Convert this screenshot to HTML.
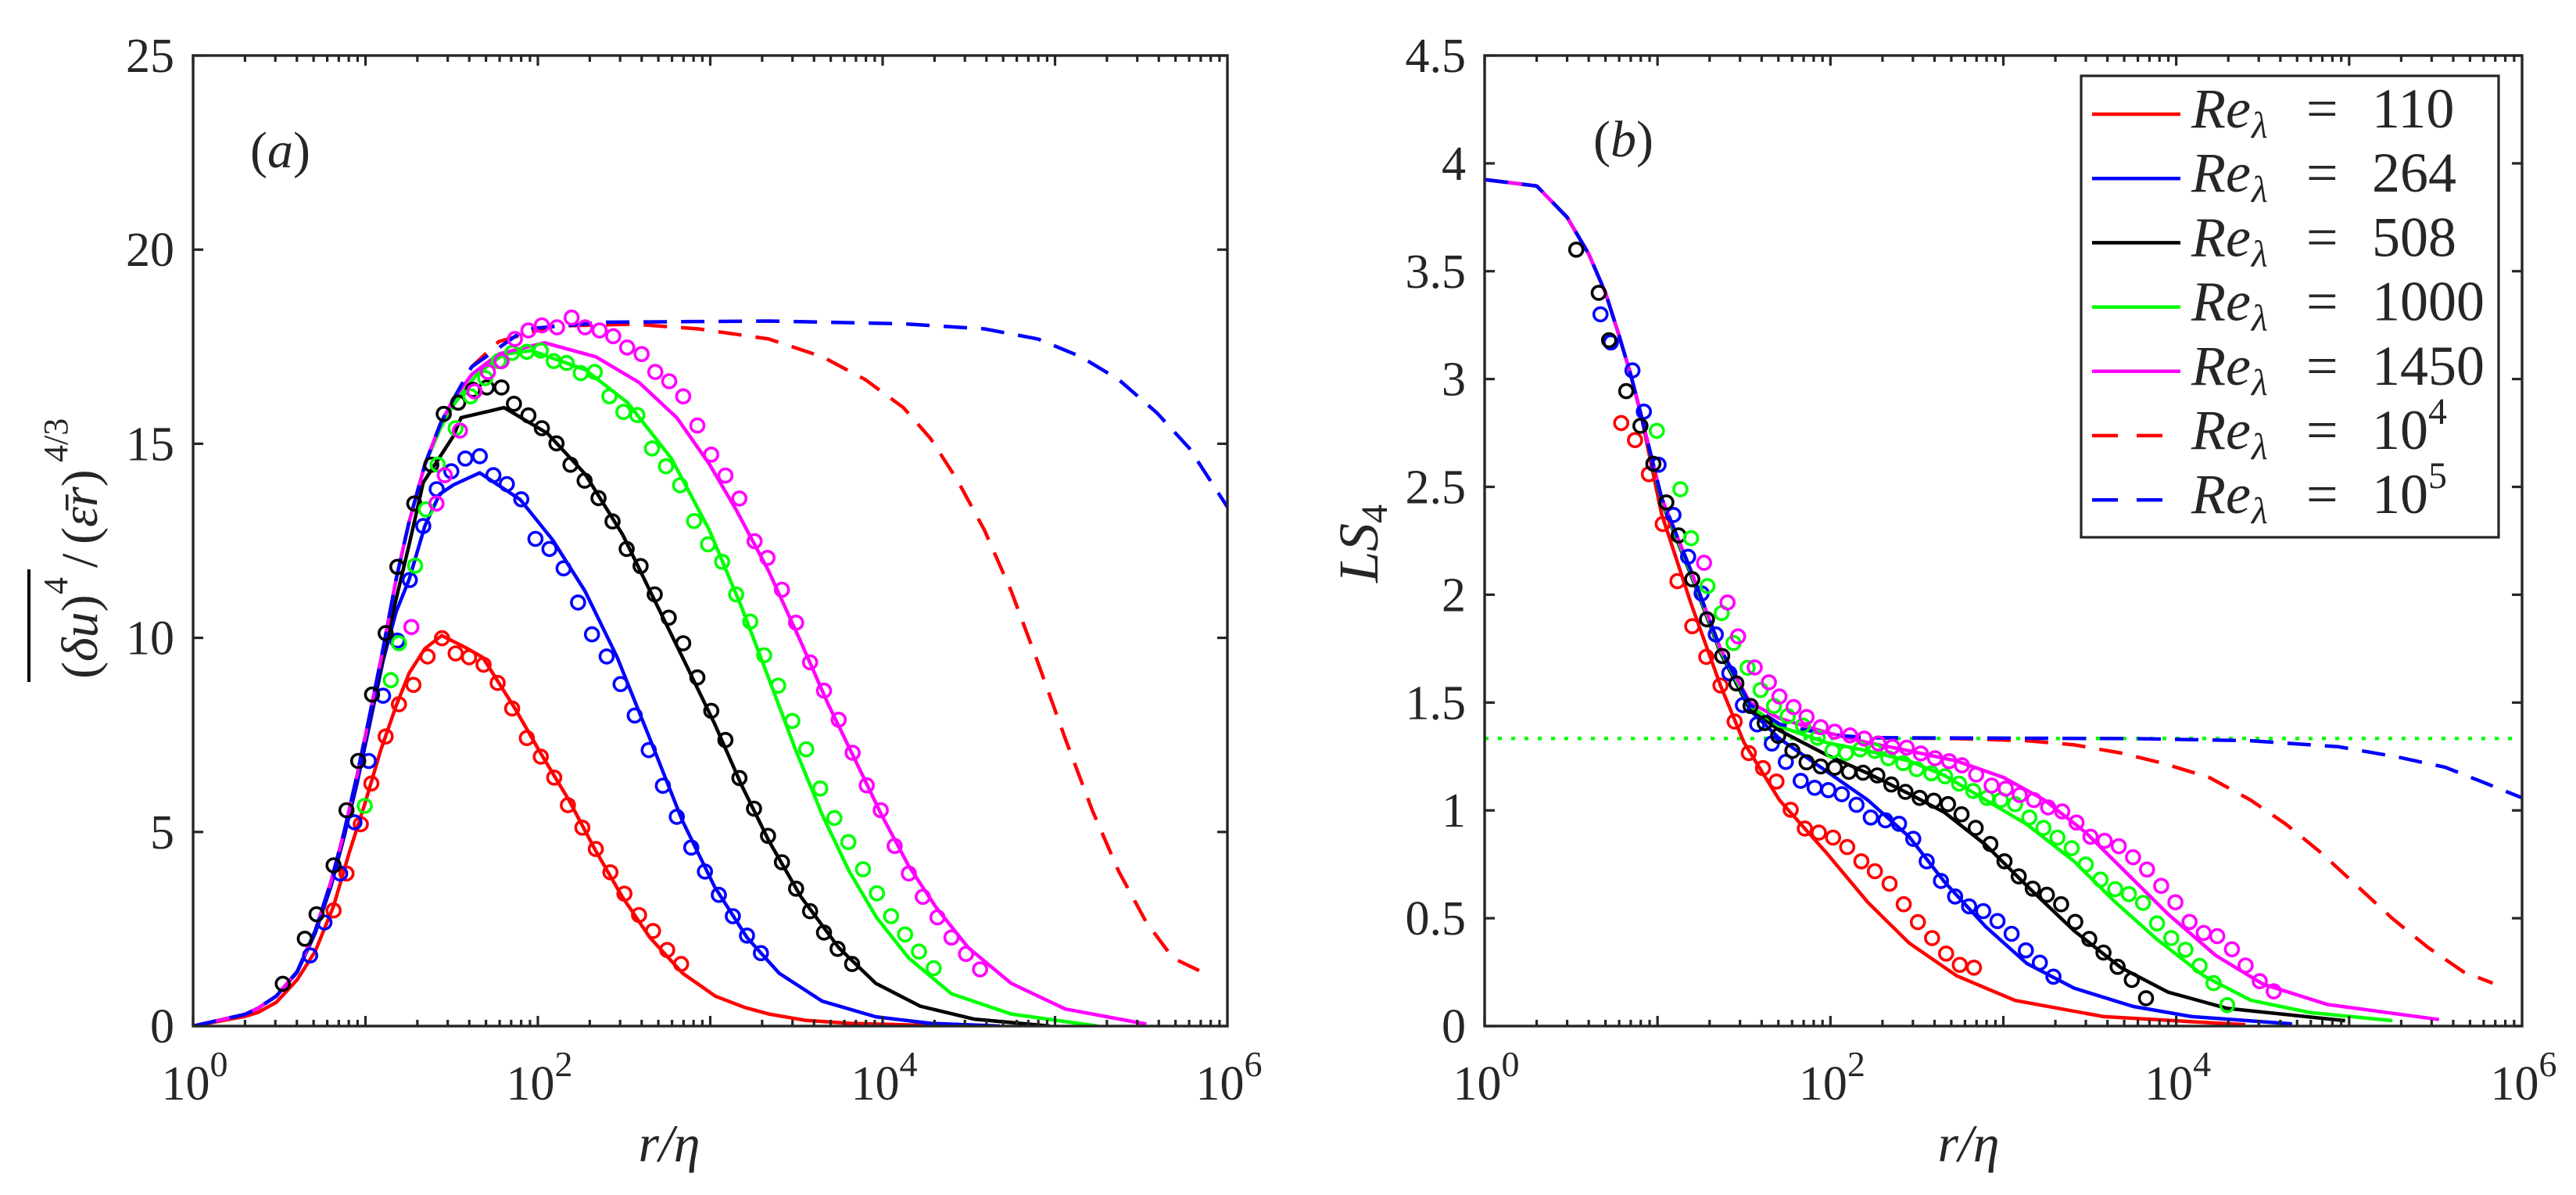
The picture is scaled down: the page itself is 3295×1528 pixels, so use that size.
<!DOCTYPE html>
<html><head><meta charset="utf-8">
<style>
html,body{margin:0;padding:0;background:#fff;}
svg{display:block;font-family:"Liberation Serif","DejaVu Serif",serif;}
text{font-family:"Liberation Serif","DejaVu Serif",serif;fill:#262626;}
</style></head>
<body>
<svg id="fig" width="3295" height="1528" viewBox="0 0 3295 1528" xmlns="http://www.w3.org/2000/svg">
<defs>
<clipPath id="clipA"><rect x="247" y="71" width="1323" height="1241"/></clipPath>
<clipPath id="clipB"><rect x="1899" y="71" width="1327" height="1241"/></clipPath>
</defs>
<rect width="3295" height="1528" fill="#fff"/>
<g id="panelA"></g>
<g id="panelB"></g>

<text x="320" y="214" font-size="66" fill="#000">(<tspan font-style="italic">a</tspan>)</text>
<text x="856" y="1485" font-size="68" font-style="italic" text-anchor="middle" fill="#000">r/η</text>
<g transform="translate(124,876) rotate(-90)">
  <text x="8" y="0" font-size="66" fill="#000">(<tspan font-style="italic">δu</tspan>)</text>
  <line x1="4" y1="-87" x2="148" y2="-87" stroke="#000" stroke-width="4"/>
  <text x="116" y="-38" font-size="44" fill="#000">4</text>
  <text x="150" y="0" font-size="66" fill="#000">/</text>
  <text x="180" y="0" font-size="66" fill="#000">(<tspan font-style="italic">ε̄r</tspan>)</text>
  <text x="285" y="-38" font-size="44" fill="#000">4/3</text>
</g>

<text x="2038" y="200" font-size="66" fill="#000">(<tspan font-style="italic">b</tspan>)</text>
<text x="2518" y="1485" font-size="68" font-style="italic" text-anchor="middle" fill="#000">r/η</text>
<g transform="translate(1762,745) rotate(-90)">
  <text x="0" y="0" font-size="72" font-style="italic" fill="#000">LS<tspan font-size="48" font-style="normal" dy="12">4</tspan></text>
</g>

<g id="legend"></g>
</svg>
<script>
// ---------------- Panel (a) data: x = log10(r/eta), y = (du)^4/(eps r)^(4/3) ----------------
const aRedLineX = [0,0.301,0.376,0.482,0.603,0.709,0.815,0.905,0.996,1.087,1.178,1.253,1.344,1.442,1.58,1.68,1.867,2.02,2.18,2.336,2.49,2.65,2.84,3.03,3.2,3.34,3.55,3.81,4.40];
const aRedLineY = [0,0.25,0.35,0.61,1.19,1.93,3.09,4.46,5.72,7.09,8.25,9.09,9.72,10.06,9.75,9.5,8.18,7.0,5.82,4.51,3.33,2.28,1.36,0.77,0.48,0.31,0.15,0.07,0];
const aBlueLineX = [0,0.301,0.376,0.482,0.603,0.709,0.80,0.875,0.951,1.026,1.102,1.178,1.253,1.344,1.43,1.51,1.663,1.898,2.086,2.274,2.46,2.65,2.837,3.025,3.213,3.40,3.65,3.96,4.277,4.68];
const aBlueLineY = [0,0.3,0.46,0.77,1.38,2.4,3.6,4.85,6.25,7.8,9.41,10.67,11.5,12.88,13.7,13.94,14.25,13.56,12.52,11.2,9.5,7.4,5.3,3.59,2.28,1.36,0.64,0.24,0.07,0];
const aBlackLineX = [0,0.301,0.376,0.482,0.603,0.709,0.80,0.875,0.951,1.026,1.102,1.178,1.253,1.335,1.51,1.554,1.804,2.055,2.274,2.493,2.68,2.853,3.025,3.18,3.34,3.526,3.745,3.96,4.22,4.53,4.97];
const aBlackLineY = [0,0.3,0.46,0.77,1.4,2.43,3.68,4.93,6.4,7.95,9.5,11.0,12.4,14.0,15.2,15.67,15.93,15.27,14.22,12.65,10.94,9.37,7.79,6.22,4.77,3.33,2.02,1.10,0.51,0.18,0];
const aGreenLineX = [0,0.301,0.376,0.482,0.603,0.709,0.80,0.875,0.951,1.026,1.102,1.178,1.253,1.344,1.435,1.51,1.648,1.80,1.961,2.274,2.52,2.775,2.994,3.18,3.338,3.494,3.651,3.807,3.964,4.152,4.40,4.746,5.247];
const aGreenLineY = [0,0.3,0.46,0.77,1.40,2.46,3.72,4.98,6.46,8.04,9.72,11.51,12.99,14.46,15.4,16.0,16.8,17.3,17.4,16.91,16.06,14.62,12.78,10.81,8.97,7.13,5.43,3.98,2.80,1.75,0.83,0.31,0];
const aMagentaLineX = [0,0.301,0.376,0.482,0.603,0.709,0.80,0.875,0.951,1.026,1.102,1.178,1.253,1.344,1.435,1.51,1.62,1.773,2.039,2.336,2.587,2.806,2.994,3.15,3.338,3.526,3.682,3.839,3.995,4.152,4.308,4.496,4.746,5.06,5.53];
const aMagentaLineY = [0,0.3,0.46,0.77,1.40,2.46,3.72,4.98,6.46,8.04,9.72,11.51,12.99,14.46,15.52,16.15,16.8,17.31,17.6,17.24,16.58,15.67,14.48,13.3,11.73,9.89,8.31,6.87,5.43,4.12,3.07,2.02,1.10,0.44,0.05];
const aRedDashX = [0,0.301,0.376,0.482,0.603,0.709,0.80,0.875,0.951,1.026,1.102,1.178,1.253,1.344,1.435,1.51,1.616,1.773,2.086,2.556,2.93,3.338,3.651,3.90,4.12,4.277,4.43,4.59,4.746,4.90,5.06,5.216,5.37,5.53,5.685,5.84];
const aRedDashY = [0,0.3,0.46,0.77,1.40,2.46,3.72,4.98,6.46,8.04,9.72,11.51,12.99,14.46,15.52,16.15,16.98,17.63,18.03,18.08,17.96,17.70,17.24,16.65,15.93,15.14,14.09,12.78,11.2,9.37,7.4,5.56,3.98,2.67,1.75,1.42];
const aBlueDashX = [0,0.301,0.376,0.482,0.603,0.709,0.80,0.875,0.951,1.026,1.102,1.178,1.253,1.344,1.435,1.51,1.616,1.93,2.399,3.338,4.12,4.59,4.90,5.15,5.37,5.59,5.78,6.0];
const aBlueDashY = [0,0.3,0.46,0.77,1.40,2.46,3.72,4.98,6.46,8.04,9.72,11.51,12.99,14.46,15.52,16.15,16.98,17.96,18.13,18.16,18.09,17.96,17.7,17.24,16.65,15.8,14.88,13.37];

const aRedPtsX = [0.815,0.890,0.973,1.034,1.117,1.194,1.278,1.360,1.444,1.523,1.601,1.685,1.767,1.851,1.936,2.017,2.095,2.174,2.258,2.336,2.421,2.502,2.587,2.668,2.750,2.831];
const aRedPtsY = [2.98,3.93,5.20,6.25,7.46,8.29,8.79,9.52,9.99,9.60,9.50,9.31,8.84,8.18,7.42,6.94,6.40,5.69,5.11,4.56,3.96,3.41,2.86,2.45,1.96,1.60];
const aBluePtsX = [0.679,0.762,0.853,0.936,1.019,1.102,1.185,1.257,1.335,1.413,1.498,1.579,1.663,1.742,1.820,1.904,1.986,2.067,2.149,2.233,2.314,2.399,2.480,2.562,2.643,2.725,2.806,2.890,2.969,3.050,3.131,3.213,3.294];
const aBluePtsY = [1.82,2.67,3.93,5.25,6.83,8.51,9.93,11.49,12.88,13.83,14.29,14.62,14.68,14.19,13.96,13.57,12.55,12.29,11.79,10.91,10.09,9.52,8.81,8.00,7.11,6.19,5.39,4.60,3.98,3.38,2.83,2.33,1.88];
const aBlackPtsX = [0.520,0.648,0.716,0.815,0.890,0.958,1.038,1.117,1.185,1.283,1.382,1.454,1.538,1.623,1.704,1.789,1.861,1.945,2.023,2.108,2.189,2.271,2.352,2.433,2.515,2.596,2.678,2.759,2.843,2.925,3.006,3.088,3.169,3.254,3.335,3.416,3.498,3.579,3.660,3.739,3.823];
const aBlackPtsY = [1.09,2.25,2.88,4.14,5.56,6.83,8.54,10.12,11.83,13.46,14.46,15.77,16.06,16.39,16.45,16.45,16.03,15.73,15.40,15.01,14.46,14.05,13.60,13.00,12.29,11.85,11.12,10.52,9.86,8.98,8.12,7.37,6.39,5.60,4.90,4.22,3.54,2.96,2.41,1.99,1.60];
const aGreenPtsX = [0.996,1.147,1.194,1.288,1.351,1.419,1.523,1.610,1.695,1.773,1.851,1.936,2.017,2.092,2.167,2.249,2.330,2.415,2.496,2.577,2.662,2.743,2.825,2.906,2.987,3.069,3.150,3.232,3.313,3.394,3.476,3.557,3.638,3.720,3.801,3.886,3.967,4.049,4.130,4.211,4.296];
const aGreenPtsY = [5.67,8.91,9.86,11.86,13.31,14.46,15.40,16.22,16.69,17.13,17.34,17.37,17.40,17.13,17.08,16.82,16.85,16.22,15.82,15.74,14.88,14.42,13.93,13.01,12.41,11.96,11.12,10.42,9.55,8.77,7.86,7.13,6.12,5.36,4.74,4.04,3.42,2.83,2.36,1.92,1.49];
const aMagentaPtsX = [1.266,1.412,1.460,1.548,1.632,1.710,1.789,1.867,1.945,2.023,2.111,2.196,2.274,2.358,2.437,2.518,2.602,2.681,2.762,2.843,2.925,3.006,3.088,3.169,3.257,3.332,3.416,3.498,3.579,3.660,3.745,3.826,3.908,3.989,4.070,4.152,4.233,4.318,4.399,4.484,4.565];
const aMagentaPtsY = [10.28,13.46,14.19,15.34,16.35,16.85,17.13,17.70,17.92,18.05,18.00,18.25,18.00,17.92,17.77,17.48,17.31,16.85,16.61,16.22,15.47,14.72,14.18,13.59,12.49,12.06,11.24,10.39,9.37,8.64,7.89,7.04,6.20,5.56,4.64,3.93,3.33,2.80,2.28,1.86,1.46];

// ---------------- Panel (b) data: x = log10(r/eta), y = LS4 ----------------
const bRedLineX = [0,0.301,0.477,0.602,0.699,0.778,0.845,0.903,1.023,1.194,1.364,1.50,1.705,1.978,2.216,2.455,2.73,3.068,3.58,4.40];
const bRedLineY = [3.925,3.895,3.75,3.58,3.40,3.2,3.02,2.84,2.375,1.958,1.579,1.314,1.048,0.802,0.574,0.385,0.233,0.119,0.044,0.006];
const bBlueLineX = [0,0.301,0.477,0.602,0.699,0.778,0.845,0.903,1.023,1.194,1.364,1.535,1.705,1.978,2.216,2.455,2.659,2.898,3.136,3.409,3.75,4.09,4.67];
const bBlueLineY = [3.925,3.895,3.75,3.58,3.40,3.2,3.02,2.84,2.432,2.091,1.731,1.465,1.333,1.181,1.048,0.878,0.669,0.461,0.29,0.176,0.091,0.044,0.01];
const bBlackLineX = [0,0.301,0.477,0.602,0.699,0.778,0.845,0.903,1.023,1.194,1.364,1.535,1.705,1.978,2.216,2.455,2.659,2.898,3.136,3.409,3.68,3.954,4.295,4.977];
const bBlackLineY = [3.925,3.895,3.75,3.58,3.40,3.2,3.02,2.84,2.432,2.091,1.731,1.47,1.371,1.257,1.172,1.077,0.991,0.840,0.650,0.442,0.271,0.157,0.082,0.025];
const bGreenLineX = [0,0.301,0.477,0.602,0.699,0.778,0.845,0.903,1.023,1.194,1.364,1.535,1.705,1.978,2.216,2.455,2.659,2.898,3.136,3.409,3.648,3.886,4.159,4.43,4.77,5.25];
const bGreenLineY = [3.925,3.895,3.75,3.58,3.40,3.2,3.02,2.84,2.44,2.10,1.74,1.484,1.389,1.314,1.276,1.229,1.162,1.048,0.935,0.764,0.574,0.404,0.233,0.12,0.063,0.025];
const bMagentaLineX = [0,0.301,0.477,0.602,0.699,0.778,0.845,0.903,1.023,1.194,1.364,1.535,1.705,1.978,2.216,2.455,2.73,3.0,3.238,3.477,3.716,3.954,4.227,4.5,4.874,5.52];
const bMagentaLineY = [3.925,3.895,3.75,3.58,3.40,3.2,3.02,2.84,2.45,2.11,1.75,1.50,1.427,1.361,1.314,1.276,1.229,1.153,1.048,0.897,0.707,0.518,0.328,0.195,0.1,0.03];
const bRedDashX = [0,0.301,0.477,0.602,0.699,0.778,0.845,0.903,1.023,1.194,1.364,1.535,1.705,1.978,2.216,2.73,3.136,3.409,3.68,3.92,4.19,4.43,4.636,4.84,5.045,5.25,5.454,5.66,5.83];
const bRedDashY = [3.925,3.895,3.75,3.58,3.40,3.2,3.02,2.84,2.45,2.11,1.75,1.49,1.40,1.352,1.337,1.333,1.323,1.304,1.266,1.219,1.153,1.048,0.935,0.802,0.65,0.499,0.366,0.252,0.199];
const bBlueDashX = [0,0.301,0.477,0.602,0.699,0.778,0.845,0.903,1.023,1.194,1.364,1.535,1.705,1.978,2.216,3.75,4.43,4.94,5.283,5.556,5.795,6.0];
const bBlueDashY = [3.925,3.895,3.75,3.58,3.40,3.2,3.02,2.84,2.45,2.11,1.75,1.49,1.40,1.352,1.337,1.333,1.323,1.295,1.247,1.2,1.124,1.058];
const bPlateau = 4/3;

const bRedPtsX = [0.79,0.87,0.95,1.030,1.115,1.201,1.282,1.364,1.446,1.528,1.610,1.688,1.770,1.852,1.933,2.015,2.097,2.179,2.257,2.342,2.424,2.506,2.588,2.669,2.748,2.830];
const bRedPtsY = [2.796,2.717,2.559,2.328,2.063,1.854,1.712,1.579,1.412,1.266,1.196,1.134,1.003,0.916,0.897,0.874,0.830,0.764,0.718,0.660,0.565,0.482,0.408,0.336,0.284,0.271];
const bBluePtsX = [0.67,0.73,0.855,0.921,1.006,1.092,1.177,1.255,1.337,1.415,1.494,1.576,1.661,1.742,1.828,1.909,1.988,2.066,2.151,2.233,2.318,2.397,2.479,2.557,2.639,2.721,2.802,2.884,2.966,3.048,3.130,3.211,3.290];
const bBluePtsY = [3.30,3.17,3.04,2.849,2.603,2.370,2.176,2.006,1.816,1.636,1.488,1.399,1.310,1.225,1.137,1.105,1.094,1.075,1.026,0.967,0.954,0.938,0.868,0.764,0.673,0.601,0.555,0.533,0.487,0.428,0.351,0.294,0.229];
const bBlackPtsX = [0.53,0.66,0.72,0.819,0.901,0.976,1.051,1.122,1.201,1.286,1.374,1.456,1.538,1.620,1.698,1.780,1.862,1.944,2.025,2.107,2.189,2.271,2.352,2.434,2.516,2.598,2.680,2.758,2.840,2.925,3.007,3.089,3.170,3.252,3.334,3.416,3.497,3.579,3.661,3.743,3.825];
const bBlackPtsY = [3.60,3.40,3.18,2.944,2.783,2.607,2.428,2.275,2.072,1.886,1.716,1.589,1.484,1.405,1.346,1.276,1.223,1.204,1.198,1.179,1.175,1.162,1.120,1.086,1.058,1.045,1.029,0.982,0.919,0.844,0.764,0.694,0.637,0.609,0.565,0.483,0.404,0.341,0.275,0.214,0.129];
const bGreenPtsX = [0.996,1.132,1.194,1.289,1.371,1.439,1.521,1.596,1.674,1.753,1.841,1.926,2.012,2.090,2.172,2.257,2.335,2.421,2.499,2.584,2.663,2.744,2.826,2.905,2.986,3.068,3.150,3.232,3.313,3.395,3.477,3.562,3.647,3.726,3.808,3.889,3.971,4.053,4.135,4.216,4.295];
const bGreenPtsY = [2.760,2.489,2.262,2.040,1.915,1.776,1.661,1.558,1.484,1.437,1.393,1.337,1.276,1.266,1.283,1.276,1.242,1.219,1.191,1.172,1.158,1.124,1.090,1.058,1.048,1.029,0.967,0.919,0.874,0.825,0.749,0.679,0.635,0.612,0.571,0.476,0.408,0.354,0.279,0.199,0.097];
const bMagentaPtsX = [1.269,1.405,1.466,1.562,1.644,1.705,1.787,1.862,1.944,2.025,2.114,2.196,2.278,2.359,2.441,2.523,2.605,2.686,2.761,2.843,2.932,3.014,3.095,3.177,3.259,3.341,3.423,3.504,3.586,3.668,3.750,3.831,3.913,3.995,4.077,4.159,4.237,4.322,4.401,4.483,4.564];
const bMagentaPtsY = [2.148,1.964,1.807,1.663,1.594,1.528,1.479,1.433,1.386,1.365,1.348,1.333,1.310,1.295,1.291,1.264,1.242,1.228,1.209,1.166,1.115,1.101,1.071,1.048,1.014,0.995,0.944,0.878,0.859,0.834,0.783,0.726,0.650,0.574,0.483,0.432,0.417,0.356,0.281,0.208,0.161];

const xTickExps = [0,2,4,6];
const aYTicks = [0,5,10,15,20,25];
const aYTickLabels = ["0","5","10","15","20","25"];
const bYTicks = [0,0.5,1,1.5,2,2.5,3,3.5,4,4.5];
const bYTickLabels = ["0","0.5","1","1.5","2","2.5","3","3.5","4","4.5"];
const legendValues = ["110","264","508","1000","1450","10","10"];
const legendExps = ["","","","","","4","5"];

const NS = "http://www.w3.org/2000/svg";
function mk(tag, attrs, parent){const e=document.createElementNS(NS,tag);for(const k in attrs)e.setAttribute(k,attrs[k]);parent.appendChild(e);return e;}

const PA = {x0:247,x1:1570,y0:71,y1:1312,xmin:0,xmax:6,ymin:0,ymax:25};
const PB = {x0:1899,x1:3226,y0:71,y1:1312,xmin:0,xmax:6,ymin:0,ymax:4.5};
function sx(p,v){return p.x0+(v-p.xmin)/(p.xmax-p.xmin)*(p.x1-p.x0);}
function sy(p,v){return p.y1-(v-p.ymin)/(p.ymax-p.ymin)*(p.y1-p.y0);}

const COL={red:"#ff0000",blue:"#0000ff",black:"#000000",green:"#00ff00",magenta:"#ff00ff"};
const DASH="30 18";
const SERIF='"Liberation Serif","DejaVu Serif",serif';

function drawLine(g,p,xs,ys,color,dash,name){
  let d="";
  for(let i=0;i<xs.length;i++){d+=(i?"L":"M")+sx(p,xs[i]).toFixed(1)+" "+sy(p,ys[i]).toFixed(1);}
  const e=mk("path",{d:d,fill:"none",stroke:color,"stroke-width":4.5,"stroke-linejoin":"round"},g);
  if(dash)e.setAttribute("stroke-dasharray",dash);
  
  
}
function drawPts(g,p,xs,ys,color,name){
  const grp=mk("g",{},g);
  
  
  for(let i=0;i<xs.length;i++){
    const c=mk("circle",{cx:sx(p,xs[i]).toFixed(1),cy:sy(p,ys[i]).toFixed(1),r:8.5,fill:"none",stroke:color,"stroke-width":3.6},grp);
    
    
  }
}
function drawAxes(g,p,yt,ytl,tag){
  const ax=mk("g",{},g);
  
  
  const st={stroke:"#262626","stroke-width":3.2};
  for(let d=p.xmin;d<p.xmax;d++){
    for(let k=1;k<=9;k++){
      const v=d+Math.log10(k);
      const X=sx(p,v);
      const L=(k===1)?13:8;
      mk("line",Object.assign({x1:X,y1:p.y1,x2:X,y2:p.y1-L},st),ax);
      mk("line",Object.assign({x1:X,y1:p.y0,x2:X,y2:p.y0+L},st),ax);
    }
  }
  xTickExps.forEach(e=>{
    const X=sx(p,e);
    const t=mk("text",{x:X+2,y:1406,"font-size":62,"text-anchor":"middle","font-family":SERIF},ax);
    
    
    t.textContent="10";
    const s=mk("tspan",{"font-size":46,dy:-30},t);
    s.textContent=String(e);
  });
  yt.forEach((v,i)=>{
    const Y=sy(p,v);
    mk("line",Object.assign({x1:p.x0,y1:Y,x2:p.x0+13,y2:Y},st),ax);
    mk("line",Object.assign({x1:p.x1,y1:Y,x2:p.x1-13,y2:Y},st),ax);
    const t=mk("text",{x:p.x0-24,y:Y+21,"font-size":62,"text-anchor":"end","font-family":SERIF},ax);
    
    
    t.textContent=ytl[i];
  });
  const b=mk("rect",{x:p.x0,y:p.y0,width:p.x1-p.x0,height:p.y1-p.y0,fill:"none",stroke:"#262626","stroke-width":3.4},ax);
  
  
}

const gA=document.getElementById("panelA");
const cA=mk("g",{"clip-path":"url(#clipA)"},gA);
drawLine(cA,PA,aRedLineX,aRedLineY,COL.red,null,"series-a-re-110");
drawLine(cA,PA,aBlueLineX,aBlueLineY,COL.blue,null,"series-a-re-264");
drawLine(cA,PA,aBlackLineX,aBlackLineY,COL.black,null,"series-a-re-508");
drawLine(cA,PA,aGreenLineX,aGreenLineY,COL.green,null,"series-a-re-1000");
drawLine(cA,PA,aMagentaLineX,aMagentaLineY,COL.magenta,null,"series-a-re-1450");
drawLine(cA,PA,aRedDashX,aRedDashY,COL.red,DASH,"series-a-re-1e4");
drawLine(cA,PA,aBlueDashX,aBlueDashY,COL.blue,DASH,"series-a-re-1e5");
drawPts(cA,PA,aRedPtsX,aRedPtsY,COL.red,"points-a-re-110");
drawPts(cA,PA,aBluePtsX,aBluePtsY,COL.blue,"points-a-re-264");
drawPts(cA,PA,aBlackPtsX,aBlackPtsY,COL.black,"points-a-re-508");
drawPts(cA,PA,aGreenPtsX,aGreenPtsY,COL.green,"points-a-re-1000");
drawPts(cA,PA,aMagentaPtsX,aMagentaPtsY,COL.magenta,"points-a-re-1450");
drawAxes(gA,PA,aYTicks,aYTickLabels,"panel-a");

const gB=document.getElementById("panelB");
const cB=mk("g",{"clip-path":"url(#clipB)"},gB);
const pl=mk("line",{x1:PB.x0,x2:PB.x1,y1:sy(PB,bPlateau),y2:sy(PB,bPlateau),stroke:COL.green,"stroke-width":4.5,"stroke-dasharray":"5 12"},cB);


drawLine(cB,PB,bRedLineX,bRedLineY,COL.red,null,"series-b-re-110");
drawLine(cB,PB,bBlueLineX,bBlueLineY,COL.blue,null,"series-b-re-264");
drawLine(cB,PB,bBlackLineX,bBlackLineY,COL.black,null,"series-b-re-508");
drawLine(cB,PB,bGreenLineX,bGreenLineY,COL.green,null,"series-b-re-1000");
drawLine(cB,PB,bMagentaLineX,bMagentaLineY,COL.magenta,null,"series-b-re-1450");
drawLine(cB,PB,bRedDashX,bRedDashY,COL.red,DASH,"series-b-re-1e4");
drawLine(cB,PB,bBlueDashX,bBlueDashY,COL.blue,DASH,"series-b-re-1e5");
drawPts(cB,PB,bRedPtsX,bRedPtsY,COL.red,"points-b-re-110");
drawPts(cB,PB,bBluePtsX,bBluePtsY,COL.blue,"points-b-re-264");
drawPts(cB,PB,bBlackPtsX,bBlackPtsY,COL.black,"points-b-re-508");
drawPts(cB,PB,bGreenPtsX,bGreenPtsY,COL.green,"points-b-re-1000");
drawPts(cB,PB,bMagentaPtsX,bMagentaPtsY,COL.magenta,"points-b-re-1450");
drawAxes(gB,PB,bYTicks,bYTickLabels,"panel-b");

const gL=document.getElementById("legend");
const lb=mk("rect",{x:2662,y:97,width:534,height:590,fill:"#fff",stroke:"#262626","stroke-width":3.2},gL);


const legColors=[COL.red,COL.blue,COL.black,COL.green,COL.magenta,COL.red,COL.blue];
for(let i=0;i<7;i++){
  const cy=146+i*82.2;
  const entry=mk("g",{},gL);
  
  
  const ln=mk("line",{x1:2676,x2:2789,y1:cy,y2:cy,stroke:legColors[i],"stroke-width":4.5},entry);
  if(i>=5) ln.setAttribute("stroke-dasharray","33 24");
  const by=cy+17;
  const t1=mk("text",{x:2803,y:by,"font-size":72,"font-style":"italic",fill:"#000","font-family":SERIF},entry);
  t1.textContent="Re";
  const t2=mk("text",{x:2880,y:by+13,"font-size":48,"font-style":"italic",fill:"#000","font-family":SERIF},entry);
  t2.textContent="λ";
  const t3=mk("text",{x:2950,y:by,"font-size":72,fill:"#000","font-family":SERIF},entry);
  t3.textContent="=";
  const t4=mk("text",{x:3034,y:by,"font-size":72,fill:"#000","font-family":SERIF},entry);
  t4.textContent=legendValues[i];
  if(legendExps[i]){
    const s=mk("tspan",{"font-size":48,dy:-32},t4);
    s.textContent=legendExps[i];
  }
}
</script>
</body></html>
